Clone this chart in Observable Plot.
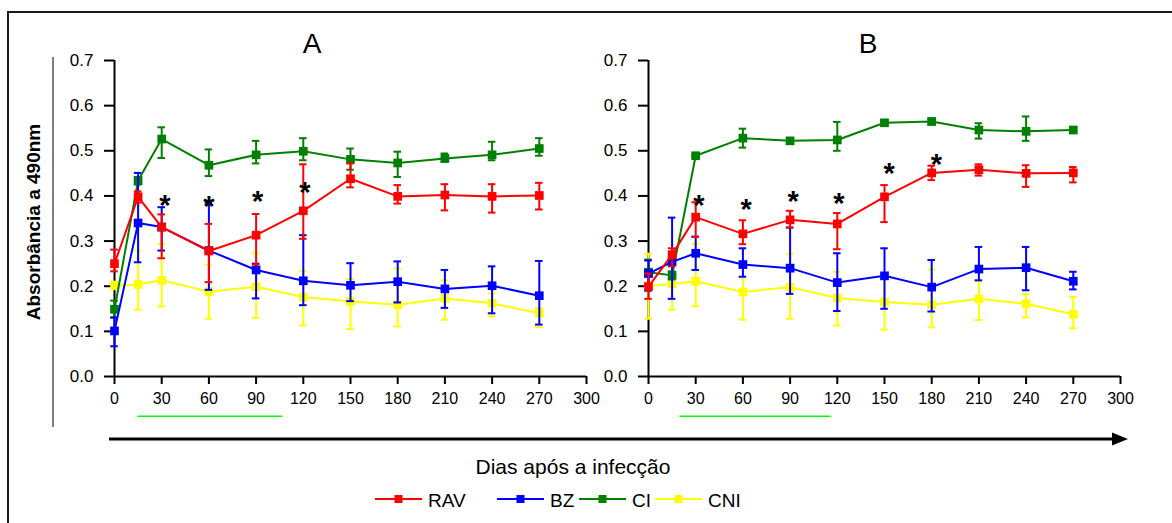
<!DOCTYPE html>
<html>
<head>
<meta charset="utf-8">
<script src="https://cdn.jsdelivr.net/npm/d3@7"></script>
<script src="https://cdn.jsdelivr.net/npm/@observablehq/plot@0.6"></script>
<style>
  html, body { margin: 0; padding: 0; background: white; }
  #wrap { position: relative; width: 1172px; height: 523px; overflow: hidden; font-family: "Liberation Sans", Arial, sans-serif; }
  #wrap > svg, #wrap > figure { position: absolute; top: 0; margin: 0; }
</style>
</head>
<body>
<div id="wrap"></div>
<script>
// ---------- DATA ----------
const days = [0, 15, 30, 60, 90, 120, 150, 180, 210, 240, 270];
const groups = ["RAV", "BZ", "CI", "CNI"];
const groupColors = ["#ff0000", "#0000ff", "#008000", "#ffff00"];
const xTicks = [0, 30, 60, 90, 120, 150, 180, 210, 240, 270, 300];
const yTicks = [0, 0.1, 0.2, 0.3, 0.4, 0.5, 0.6, 0.7];
const panelTitles = ["A", "B"];

// Panel A
const A_RAV    = [0.250, 0.398, 0.331, 0.278, 0.313, 0.367, 0.438, 0.399, 0.402, 0.399, 0.401];
const A_RAV_lo = [0.233, 0.385, 0.262, 0.209, 0.248, 0.305, 0.419, 0.383, 0.368, 0.363, 0.370];
const A_RAV_hi = [0.281, 0.410, 0.359, 0.338, 0.360, 0.470, 0.472, 0.424, 0.426, 0.426, 0.429];
const A_BZ     = [0.101, 0.340, 0.331, 0.279, 0.236, 0.212, 0.202, 0.210, 0.194, 0.201, 0.179];
const A_BZ_lo  = [0.067, 0.253, 0.279, 0.192, 0.173, 0.158, 0.167, 0.164, 0.152, 0.140, 0.115];
const A_BZ_hi  = [0.131, 0.451, 0.375, 0.385, 0.250, 0.313, 0.251, 0.255, 0.236, 0.244, 0.256];
const A_CI     = [0.149, 0.434, 0.526, 0.468, 0.491, 0.499, 0.481, 0.473, 0.483, 0.491, 0.505];
const A_CI_lo  = [0.130, 0.425, 0.484, 0.444, 0.472, 0.479, 0.458, 0.442, 0.476, 0.479, 0.489];
const A_CI_hi  = [0.168, 0.442, 0.552, 0.503, 0.522, 0.528, 0.505, 0.498, 0.494, 0.520, 0.528];
const A_CNI    = [0.201, 0.204, 0.213, 0.188, 0.199, 0.176, 0.166, 0.159, 0.173, 0.162, 0.140];
const A_CNI_lo = [0.195, 0.148, 0.155, 0.128, 0.130, 0.113, 0.105, 0.111, 0.126, 0.133, 0.109];
const A_CNI_hi = [0.210, 0.279, 0.294, 0.248, 0.273, 0.233, 0.216, 0.239, 0.213, 0.184, 0.152];
const A_starDays = [32, 60, 91, 121];
const A_starVals = [0.393, 0.391, 0.402, 0.422];
const A_treatment = [15, 107];

// Panel B
const B_RAV    = [0.199, 0.270, 0.353, 0.316, 0.347, 0.338, 0.398, 0.451, 0.458, 0.450, 0.451];
const B_RAV_lo = [0.172, 0.244, 0.309, 0.293, 0.330, 0.282, 0.342, 0.435, 0.445, 0.420, 0.430];
const B_RAV_hi = [0.228, 0.284, 0.386, 0.346, 0.367, 0.362, 0.424, 0.467, 0.470, 0.468, 0.464];
const B_BZ     = [0.228, 0.254, 0.273, 0.248, 0.240, 0.208, 0.223, 0.198, 0.238, 0.241, 0.211];
const B_BZ_lo  = [0.190, 0.172, 0.236, 0.221, 0.183, 0.145, 0.150, 0.144, 0.213, 0.191, 0.193];
const B_BZ_hi  = [0.257, 0.352, 0.310, 0.284, 0.330, 0.273, 0.284, 0.258, 0.287, 0.287, 0.232];
const B_CI     = [0.231, 0.224, 0.489, 0.528, 0.522, 0.524, 0.562, 0.565, 0.546, 0.543, 0.546];
const B_CI_lo  = [0.205, 0.215, 0.486, 0.507, 0.516, 0.500, 0.556, 0.558, 0.527, 0.522, 0.541];
const B_CI_hi  = [0.259, 0.233, 0.492, 0.549, 0.528, 0.564, 0.567, 0.571, 0.561, 0.576, 0.551];
const B_CNI    = [0.201, 0.205, 0.211, 0.187, 0.198, 0.174, 0.165, 0.159, 0.172, 0.161, 0.138];
const B_CNI_lo = [0.128, 0.148, 0.156, 0.126, 0.128, 0.113, 0.104, 0.109, 0.125, 0.131, 0.107];
const B_CNI_hi = [0.272, 0.262, 0.294, 0.248, 0.272, 0.232, 0.215, 0.237, 0.212, 0.183, 0.176];
const B_starDays = [32, 62, 92, 121, 153, 183];
const B_starVals = [0.393, 0.385, 0.402, 0.398, 0.464, 0.484];
const B_treatment = [20, 116];

// ---------- BUILD ----------
const colorOf = Object.fromEntries(groups.map((g, i) => [g, groupColors[i]]));
const FONT = '"Liberation Sans", Arial, sans-serif';

function seriesRows(group, mean, lo, hi) {
  return days.map((d, i) => ({day: d, group, mean: mean[i], lo: lo[i], hi: hi[i]}));
}

function makePanel(series, starDays, starVals, treatment) {
  const drawOrder = ["CNI", "CI", "BZ", "RAV"];
  const marks = [];
  for (const g of drawOrder) {
    const rows = series[g];
    const c = colorOf[g];
    marks.push(
      Plot.ruleX(rows, {x: "day", y1: "lo", y2: "hi", stroke: c, strokeWidth: 2}),
      Plot.ruleY(rows, {y: "hi", x1: d => d.day - 2.4, x2: d => d.day + 2.4, stroke: c, strokeWidth: 2}),
      Plot.ruleY(rows, {y: "lo", x1: d => d.day - 2.4, x2: d => d.day + 2.4, stroke: c, strokeWidth: 2}),
      Plot.line(rows, {x: "day", y: "mean", stroke: c, strokeWidth: 2}),
      Plot.dot(rows, {x: "day", y: "mean", symbol: "square", r: 4.9, fill: c, stroke: "none"})
    );
  }
  const stars = starDays.map((d, i) => ({day: d, v: starVals[i]}));
  return Plot.plot({
    width: 600,
    height: 420,
    marginLeft: 114,
    marginRight: 14,
    marginTop: 60,
    marginBottom: 44,
    style: {background: "none", overflow: "visible", fontFamily: FONT, color: "black"},
    x: {domain: [0, 300]},
    y: {domain: [0, 0.7]},
    marks: [
      Plot.axisX({ticks: xTicks, tickSize: 8, tickPadding: 8, fontSize: 16, strokeWidth: 2, label: null, tickFormat: d3.format("d")}),
      Plot.axisY({ticks: yTicks, tickSize: 10, tickPadding: 11, fontSize: 17, strokeWidth: 2, label: null, tickFormat: d3.format(".1f")}),
      Plot.ruleX([0], {y1: 0, y2: 0.7, stroke: "black", strokeWidth: 2}),
      Plot.ruleY([0], {x1: 0, x2: 300, stroke: "black", strokeWidth: 2}),
      Plot.ruleY([-0.088], {x1: treatment[0], x2: treatment[1], stroke: "#00ff00", strokeWidth: 1.5}),
      ...marks,
      Plot.text(stars, {x: "day", y: "v", text: () => "*", fontSize: 29, fontWeight: "bold", fill: "black", dy: 7})
    ]
  });
}

const panelA = makePanel({
  RAV: seriesRows("RAV", A_RAV, A_RAV_lo, A_RAV_hi),
  BZ: seriesRows("BZ", A_BZ, A_BZ_lo, A_BZ_hi),
  CI: seriesRows("CI", A_CI, A_CI_lo, A_CI_hi),
  CNI: seriesRows("CNI", A_CNI, A_CNI_lo, A_CNI_hi)
}, A_starDays, A_starVals, A_treatment);

const panelB = makePanel({
  RAV: seriesRows("RAV", B_RAV, B_RAV_lo, B_RAV_hi),
  BZ: seriesRows("BZ", B_BZ, B_BZ_lo, B_BZ_hi),
  CI: seriesRows("CI", B_CI, B_CI_lo, B_CI_hi),
  CNI: seriesRows("CNI", B_CNI, B_CNI_lo, B_CNI_hi)
}, B_starDays, B_starVals, B_treatment);

const wrap = document.getElementById("wrap");

// Overlay decorations (frame, arrow, titles, legend)
const ov = d3.create("svg").attr("width", 1172).attr("height", 523)
  .style("left", "0px").style("font-family", FONT);
ov.append("rect").attr("width", 1172).attr("height", 523).attr("fill", "white");
ov.append("path").attr("d", "M8,524 L8,12 L1173,12").attr("fill", "none").attr("stroke", "#1a1a1a").attr("stroke-width", 2);
ov.append("line").attr("x1", 53).attr("x2", 53).attr("y1", 57).attr("y2", 427).attr("stroke", "black").attr("stroke-width", 1);
ov.append("line").attr("x1", 109).attr("x2", 1115).attr("y1", 439).attr("y2", 439).attr("stroke", "black").attr("stroke-width", 3.2);
ov.append("path").attr("d", "M1112,432.5 L1128,439 L1112,445.5 Z").attr("fill", "black");
ov.append("text").attr("transform", "translate(40,222) rotate(-90)").attr("text-anchor", "middle")
  .attr("font-size", 19).attr("font-weight", "bold").text("Absorbância a 490nm");
ov.append("text").attr("x", 573).attr("y", 474).attr("text-anchor", "middle").attr("font-size", 21).text("Dias após a infecção");
[[312, panelTitles[0]], [868, panelTitles[1]]].forEach(([x, t]) =>
  ov.append("text").attr("x", x).attr("y", 53).attr("text-anchor", "middle").attr("font-size", 28).text(t));

// Legend
const legX = [375, 497, 579, 655];
groups.forEach((g, i) => {
  const gx = legX[i];
  const c = groupColors[i];
  ov.append("line").attr("x1", gx).attr("x2", gx + 47).attr("y1", 499).attr("y2", 499).attr("stroke", c).attr("stroke-width", 2);
  ov.append("rect").attr("x", gx + 23.5 - 4).attr("y", 495).attr("width", 8).attr("height", 8).attr("fill", c);
  ov.append("text").attr("x", gx + 53).attr("y", 507).attr("font-size", 19).text(g);
});

wrap.appendChild(ov.node());
panelA.style.left = "0px";
panelB.style.left = "534px";
wrap.appendChild(panelA);
wrap.appendChild(panelB);
</script>
</body>
</html>
